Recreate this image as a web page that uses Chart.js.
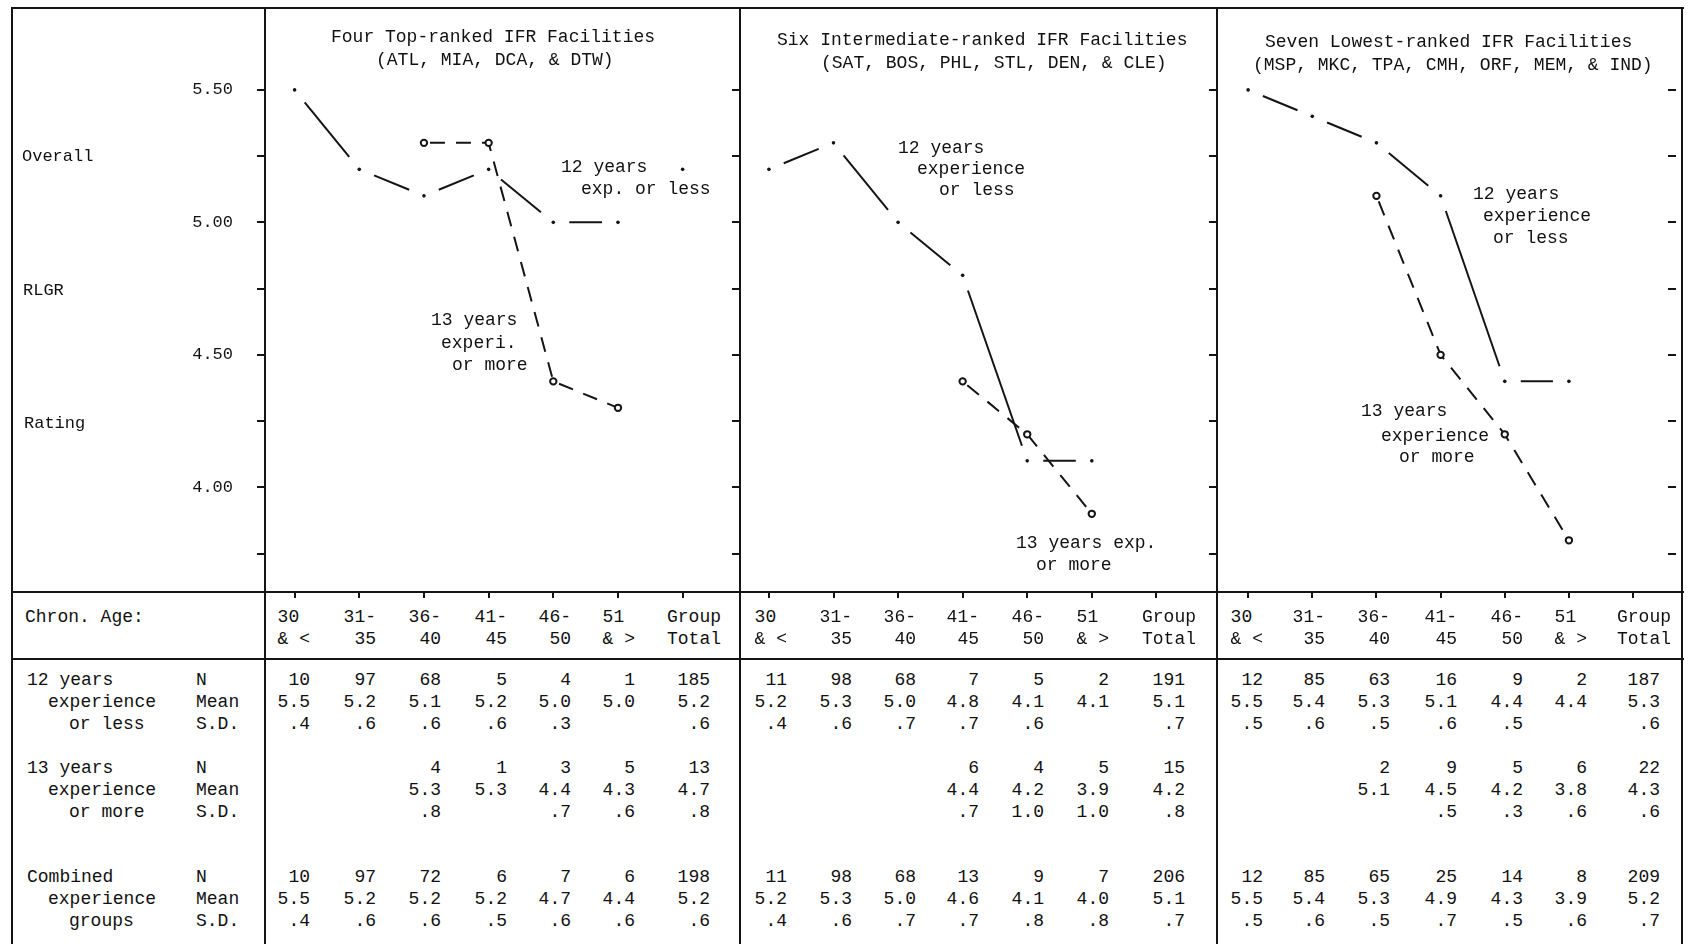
<!DOCTYPE html>
<html>
<head>
<meta charset="utf-8">
<title>Overall RLGR Rating by Chronological Age and Experience</title>
<script src="https://cdn.jsdelivr.net/npm/chart.js@4.4.1/dist/chart.umd.min.js"></script>
<style>
  html, body { margin: 0; padding: 0; background: #fff; }
  #fig {
    position: relative; width: 1692px; height: 944px; overflow: hidden; background: #fff;
    font-family: "Liberation Mono", "DejaVu Sans Mono", monospace; font-size: 18px; color: #111;
  }
  #fig canvas { position: absolute; top: 0; }
  .rule { position: absolute; background: #141414; }
  .txt { position: absolute; white-space: pre; line-height: 22px; z-index: 2; }
</style>
</head>
<body>
<div id="fig">
  <canvas id="cTop" width="740" height="600" style="left:0px"></canvas>
  <canvas id="cMid" width="487" height="600" style="left:730px"></canvas>
  <canvas id="cLow" width="475" height="600" style="left:1207px"></canvas>
</div>
<script>
// ---- age bands and rating ticks ----
const ageHead1 = ['30 ', '31-', '36-', '41-', '46-', '51 ', 'Group'];
const ageHead2 = ['& <', ' 35', ' 40', ' 45', ' 50', '& >', 'Total'];
const columnIndex = [0, 1, 2, 3, 4, 5, 6];
const yTickValues = [3.75, 4.00, 4.25, 4.50, 4.75, 5.00, 5.25, 5.50];

// ---- Four top-ranked IFR facilities ----
const topN12     = [10, 97, 68, 5, 4, 1, 185];
const topMean12  = [5.5, 5.2, 5.1, 5.2, 5.0, 5.0, 5.2];
const topSD12    = [0.4, 0.6, 0.6, 0.6, 0.3, null, 0.6];
const topN13     = [null, null, 4, 1, 3, 5, 13];
const topMean13  = [null, null, 5.3, 5.3, 4.4, 4.3, 4.7];
const topSD13    = [null, null, 0.8, null, 0.7, 0.6, 0.8];
const topNAll    = [10, 97, 72, 6, 7, 6, 198];
const topMeanAll = [5.5, 5.2, 5.2, 5.2, 4.7, 4.4, 5.2];
const topSDAll   = [0.4, 0.6, 0.6, 0.5, 0.6, 0.6, 0.6];

// ---- Six intermediate-ranked IFR facilities ----
const midN12     = [11, 98, 68, 7, 5, 2, 191];
const midMean12  = [5.2, 5.3, 5.0, 4.8, 4.1, 4.1, 5.1];
const midSD12    = [0.4, 0.6, 0.7, 0.7, 0.6, null, 0.7];
const midN13     = [null, null, null, 6, 4, 5, 15];
const midMean13  = [null, null, null, 4.4, 4.2, 3.9, 4.2];
const midSD13    = [null, null, null, 0.7, 1.0, 1.0, 0.8];
const midNAll    = [11, 98, 68, 13, 9, 7, 206];
const midMeanAll = [5.2, 5.3, 5.0, 4.6, 4.1, 4.0, 5.1];
const midSDAll   = [0.4, 0.6, 0.7, 0.7, 0.8, 0.8, 0.7];

// ---- Seven lowest-ranked IFR facilities ----
const lowN12     = [12, 85, 63, 16, 9, 2, 187];
const lowMean12  = [5.5, 5.4, 5.3, 5.1, 4.4, 4.4, 5.3];
const lowSD12    = [0.5, 0.6, 0.5, 0.6, 0.5, null, 0.6];
const lowN13     = [null, null, 2, 9, 5, 6, 22];
const lowMean13  = [null, null, 5.1, 4.5, 4.2, 3.8, 4.3];
const lowSD13    = [null, null, null, 0.5, 0.3, 0.6, 0.6];
const lowNAll    = [12, 85, 65, 25, 14, 8, 209];
const lowMeanAll = [5.5, 5.4, 5.3, 4.9, 4.3, 3.9, 5.2];
const lowSDAll   = [0.5, 0.6, 0.5, 0.7, 0.5, 0.6, 0.7];

// ---- drawing ----
const INK = '#141414';
const MONO = '"Liberation Mono", "DejaVu Sans Mono", monospace';
const Y_MIN = 3.605, Y_MAX = 5.809;
const END_GAP = 16;   // blank space left at each end of a solid-line segment

const fig = document.getElementById('fig');

function rule(x, y, w, h) {
  const d = document.createElement('div');
  d.className = 'rule';
  Object.assign(d.style, { left: x + 'px', top: y + 'px', width: w + 'px', height: h + 'px' });
  fig.appendChild(d);
}
function text(str, x, cy, opts = {}) {
  const d = document.createElement('div');
  d.className = 'txt';
  d.textContent = str;
  d.style.top = (cy - 11) + 'px';
  if (opts.right !== undefined) d.style.right = (1692 - opts.right) + 'px';
  else d.style.left = x + 'px';
  if (opts.size) d.style.fontSize = opts.size + 'px';
  fig.appendChild(d);
}

// one dash per segment, stopping short of both plotted points
function segDash(ctx) {
  const len = Math.hypot(ctx.p1.x - ctx.p0.x, ctx.p1.y - ctx.p0.y);
  const dash = Math.max(len - 2 * END_GAP, 1);
  return [dash, 2 * END_GAP + 4000 + ctx.p0DataIndex];
}
function segOffset(ctx) {
  const d = segDash(ctx);
  return d[0] + d[1] - END_GAP;
}

// inward tick marks on the right-hand edge of the last panel
const edgeTicks = {
  id: 'edgeTicks',
  afterDraw(chart, args, opts) {
    if (!opts.right) return;
    const { ctx, chartArea, scales: { y } } = chart;
    ctx.save();
    ctx.strokeStyle = INK;
    ctx.lineWidth = 2;
    y.ticks.forEach(t => {
      const py = Math.round(y.getPixelForValue(t.value));
      ctx.beginPath();
      ctx.moveTo(chartArea.right, py);
      ctx.lineTo(chartArea.right - 8, py);
      ctx.stroke();
    });
    ctx.restore();
  }
};

function points(values) {
  return values.slice(0, 6)
    .map((v, i) => (v === null ? null : { x: columnIndex[i], y: v }))
    .filter(p => p !== null);
}

function makeChart(p) {
  const datasets = [
    {
      label: '12 years experience or less',
      data: points(p.mean12),
      borderColor: INK, borderWidth: 2,
      pointRadius: 1.8, pointBackgroundColor: INK, pointBorderWidth: 0,
      segment: { borderDash: segDash, borderDashOffset: segOffset }
    },
    {
      label: '13 years experience or more',
      data: points(p.mean13),
      borderColor: INK, borderWidth: 2, borderDash: [15, 11], borderDashOffset: -6,
      pointRadius: 3.2, pointBackgroundColor: '#fff', pointBorderColor: INK, pointBorderWidth: 2
    }
  ];
  if (p.totalDot) {
    datasets.push({
      label: 'Group total, 12 years or less',
      data: [{ x: columnIndex[6], y: p.mean12[6] }],
      showLine: false, pointRadius: 1.8, pointBackgroundColor: INK, pointBorderWidth: 0
    });
  }
  return new Chart(document.getElementById(p.id), {
    type: 'line',
    data: { datasets },
    plugins: [edgeTicks],
    options: {
      responsive: false,
      animation: false,
      events: [],
      layout: { padding: { top: 8, left: 0, right: 0, bottom: 0 } },
      plugins: { legend: { display: false }, tooltip: { enabled: false }, edgeTicks: { right: p.rightTicks } },
      scales: {
        x: {
          type: 'linear', position: 'bottom', min: p.xMin, max: p.xMax,
          afterBuildTicks: s => { s.ticks = columnIndex.map(v => ({ value: v })); },
          afterFit: s => { s.height = 8; s.paddingLeft = 0; s.paddingRight = 0; },
          ticks: { display: false },
          grid: { drawOnChartArea: false, drawTicks: true, tickLength: 6, color: INK, lineWidth: 2 },
          border: { display: false }
        },
        y: {
          type: 'linear', position: 'left', min: Y_MIN, max: Y_MAX,
          afterBuildTicks: s => { s.ticks = yTickValues.map(v => ({ value: v })); },
          afterFit: s => { s.width = p.axisWidth; s.paddingTop = 0; s.paddingBottom = 0; },
          ticks: {
            display: p.labels, padding: 24, color: INK,
            font: { family: MONO, size: 17 },
            callback: v => (Math.abs(v * 2 - Math.round(v * 2)) < 1e-6 ? v.toFixed(2) : '')
          },
          grid: { drawOnChartArea: false, drawTicks: true, tickLength: 8, color: INK, lineWidth: 2 },
          border: { display: false }
        }
      }
    }
  });
}

const panels = [
  {
    id: 'cTop', axisWidth: 265, xMin: -0.458, xMax: 6.794, labels: true, totalDot: true, rightTicks: false,
    mean12: topMean12, mean13: topMean13,
    rows: [[topN12, topMean12, topSD12], [topN13, topMean13, topSD13], [topNAll, topMeanAll, topSDAll]],
    cols: [310, 376, 441, 507, 571, 635, 710],
    title: [['Four Top-ranked IFR Facilities', 331, 37], ['(ATL, MIA, DCA, & DTW)', 376, 60]],
    notes: [['12 years', 561, 167], ['exp. or less', 581, 189],
            ['13 years', 431, 320], ['experi.', 441, 343], ['or more', 452, 365]]
  },
  {
    id: 'cMid', axisWidth: 10, xMin: -0.448, xMax: 6.846, labels: false, totalDot: false, rightTicks: false,
    mean12: midMean12, mean13: midMean13,
    rows: [[midN12, midMean12, midSD12], [midN13, midMean13, midSD13], [midNAll, midMeanAll, midSDAll]],
    cols: [787, 852, 916, 979, 1044, 1109, 1185],
    title: [['Six Intermediate-ranked IFR Facilities', 777, 40], ['(SAT, BOS, PHL, STL, DEN, & CLE)', 821, 63]],
    notes: [['12 years', 898, 148], ['experience', 917, 169], ['or less', 939, 190],
            ['13 years exp.', 1016, 543], ['or more', 1036, 565]]
  },
  {
    id: 'cLow', axisWidth: 10, xMin: -0.485, xMax: 6.669, labels: false, totalDot: false, rightTicks: true,
    mean12: lowMean12, mean13: lowMean13,
    rows: [[lowN12, lowMean12, lowSD12], [lowN13, lowMean13, lowSD13], [lowNAll, lowMeanAll, lowSDAll]],
    cols: [1263, 1325, 1390, 1457, 1523, 1587, 1660],
    title: [['Seven Lowest-ranked IFR Facilities', 1265, 42], ['(MSP, MKC, TPA, CMH, ORF, MEM, & IND)', 1253, 65]],
    notes: [['12 years', 1473, 194], ['experience', 1483, 216], ['or less', 1493, 238],
            ['13 years', 1361, 411], ['experience', 1381, 436], ['or more', 1399, 457]]
  }
];

// frame and table rules
rule(11, 7, 1673, 2);         // top edge
rule(11, 591, 1673, 2);       // chart / table boundary
rule(11, 658, 1673, 2);       // under the age header
[11, 264, 739, 1216, 1681].forEach(x => rule(x, 7, 2, 944));

// side labels
text('Overall', 22, 157, { size: 17 });
text('RLGR', 23, 291, { size: 17 });
text('Rating', 24, 424, { size: 17 });

// table row labels
text('Chron. Age:', 25, 617);
const rowY = [[680, 702, 724], [768, 790, 812], [877, 899, 921]];
const groupLabels = [['12 years', 'experience', 'or less'],
                     ['13 years', 'experience', 'or more'],
                     ['Combined', 'experience', 'groups']];
const groupIndent = [27, 48, 69];
const statLabels = ['N', 'Mean', 'S.D.'];
groupLabels.forEach((lines, g) => {
  lines.forEach((s, r) => {
    text(s, groupIndent[r], rowY[g][r]);
    text(statLabels[r], 196, rowY[g][r]);
  });
});

function fmtMean(v) { return v.toFixed(1); }
function fmtSD(v) { return v < 1 ? '.' + Math.round(v * 10) : v.toFixed(1); }

panels.forEach(p => {
  makeChart(p);
  p.title.forEach(([s, x, y]) => text(s, x, y));
  p.notes.forEach(([s, x, y]) => text(s, x, y));
  columnIndex.forEach(k => {
    const hr = p.cols[k] + (k === 6 ? 11 : 0);
    text(ageHead1[k], 0, 617, { right: hr });
    text(ageHead2[k], 0, 639, { right: hr });
  });
  p.rows.forEach((stats, g) => {
    const [nArr, meanArr, sdArr] = stats;
    columnIndex.forEach(k => {
      if (nArr[k] !== null) text(String(nArr[k]), 0, rowY[g][0], { right: p.cols[k] });
      if (meanArr[k] !== null) text(fmtMean(meanArr[k]), 0, rowY[g][1], { right: p.cols[k] });
      if (sdArr[k] !== null) text(fmtSD(sdArr[k]), 0, rowY[g][2], { right: p.cols[k] });
    });
  });
});
</script>
</body>
</html>
